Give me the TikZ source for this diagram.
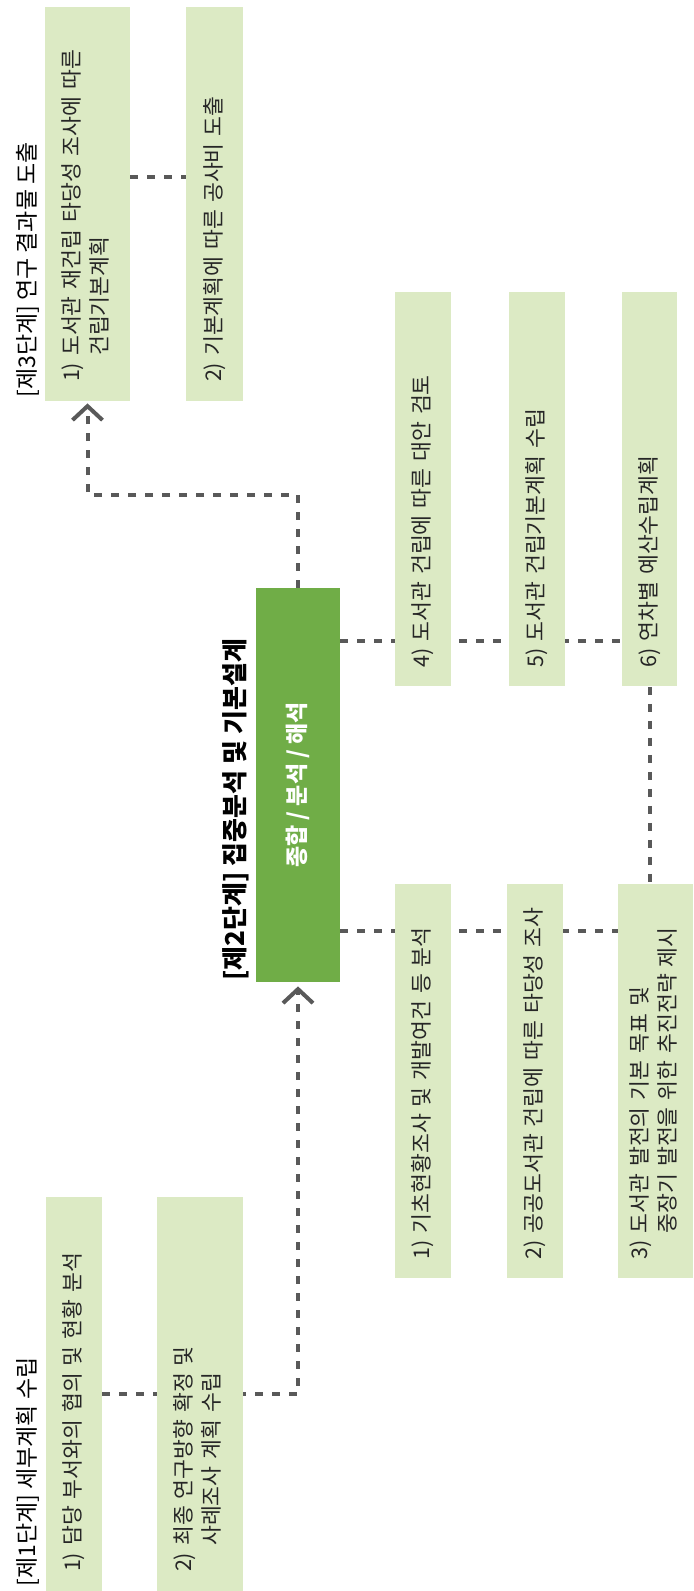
\documentclass[tikz,border=0pt]{standalone}
\usepackage{fontspec}
\setmainfont{Noto Sans CJK KR}
\usepackage{tikz}
\usetikzlibrary{arrows.meta,calc}
\usepackage{xcolor}
\definecolor{colordceac4}{HTML}{DCEAC4}
\definecolor{color70ad47}{HTML}{70AD47}
\definecolor{color595959}{HTML}{595959}
\definecolor{color262626}{HTML}{262626}
\pgfdeclarelayer{background}
\pgfsetlayers{background,main}
\newcommand{\wordgap}{\spaceskip=0.32em\relax}
\newcommand{\leaftext}[1]{\makebox[178pt][l]{\wordgap #1}}
\newcommand{\leaftwo}[3]{\makebox[178pt][l]{\wordgap\begin{tabular}{@{}l@{\ }l@{}}#1 & \wordgap #2\\ & \wordgap #3\end{tabular}}}

\begin{document}
\begin{tikzpicture}
    [x=0.5pt, y=0.5pt,
     >={Straight Barb[length=7pt,width=15pt]},  % open chevron tip
     leafbox/.style={shape=rectangle, fill=colordceac4, rotate=90, minimum width=197pt, minimum height=28pt, inner xsep=9.5pt, inner ysep=0pt, text=color262626, font=\fontsize{10.8}{14}\selectfont},
     stagebox/.style={shape=rectangle, fill=color70ad47, rotate=90, minimum width=197pt, minimum height=42pt, text=white, font=\bfseries\fontsize{11.5}{14}\selectfont},
     stagetitle/.style={rotate=90, anchor=west, inner sep=0pt, font=\fontsize{11.5}{14}\selectfont},
     dotline/.style={draw=color595959, line width=2pt, dash pattern=on 4pt off 4.5pt},
    ]

\useasboundingbox (0,0) rectangle (693,1591);

% stage 1
\node[stagetitle] (title_a) at (27.5,4) {[제1단계] 세부계획 수립};
\node[leafbox] (plan_a) at (74,197) {\leaftext{1) 담당 부서와의 협의 및 현황 분석}};
\node[leafbox, minimum height=43pt] (plan_b) at (200,197) {\leaftwo{2)}{최종 연구방향 확정 및}{사례조사 계획 수립}};

% stage 2
\node[stagetitle, font=\bfseries\fontsize{13}{15}\selectfont] (title_b) at (235.5,610) {[제2단계] 집중분석 및 기본설계};
\node[stagebox] (core) at (298,806) {종합 / 분석 / 해석};
\node[leafbox] (study_a) at (423,509.5) {\leaftext{1) 기초현황조사 및 개발여건 등 분석}};
\node[leafbox] (study_b) at (535,509.5) {\leaftext{2) 공공도서관 건립에 따른 타당성 조사}};
\node[leafbox, minimum height=37.5pt] (study_c) at (655.5,509.5) {\leaftwo{3)}{도서관 발전의 기본 목표 및}{중장기 발전을 위한 추진전략 제시}};
\node[leafbox] (study_d) at (423,1101.5) {\leaftext{4) 도서관 건립에 따른 대안 검토}};
\node[leafbox] (study_e) at (537,1101.5) {\leaftext{5) 도서관 건립기본계획 수립}};
\node[leafbox, minimum height=27.5pt] (study_f) at (649.5,1101.5) {\leaftext{6) 연차별 예산수립계획}};

% stage 3
\node[stagetitle] (title_c) at (27.5,1193) {[제3단계] 연구 결과물 도출};
\node[leafbox, minimum height=42.5pt] (result_a) at (87.5,1387) {\leaftwo{1)}{도서관 재건립 타당성 조사에 따른}{건립기본계획}};
\node[leafbox, minimum height=28.5pt] (result_b) at (214.5,1387) {\leaftext{2) 기본계획에 따른 공사비 도출}};

\begin{pgfonlayer}{background}
\draw[dotline,->,shorten >=2pt] (plan_a.south) -| (core.west);
\draw[dotline,->,shorten >=1pt] (core.east) -- ++(0,93) -| (result_a.west);
\coordinate (tap_low) at ($(core.south west)+(0,51)$);
\coordinate (tap_high) at ($(core.south east)+(0,-53)$);
\draw[dotline] (tap_low) -- (tap_low -| study_c.north);
\draw[dotline] (tap_high) -- (tap_high -| study_f.north);
\draw[dotline] (study_f.west) -- (study_f.west |- study_c.east);
\coordinate (tap_out) at ($(result_a.south)+(0,27)$);
\draw[dotline] (tap_out) -- (tap_out -| result_b.north);
\end{pgfonlayer}

\end{tikzpicture}
\end{document}
